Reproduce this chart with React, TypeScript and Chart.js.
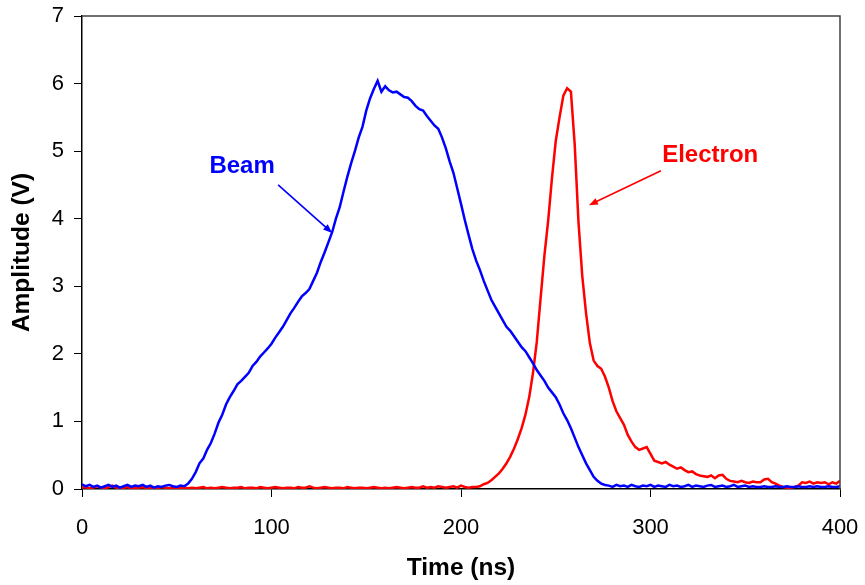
import React, { useEffect, useRef } from "react";
import { Chart, registerables } from "chart.js";

Chart.register(...registerables);

// Sample times (ns), one every 2 ns from 0 to 400
const timeStart = 0;
const timeStep = 2;

// Beam amplitude (V)
const beamAmp: number[] = [
  0.07, 0.04, 0.06, 0.03, 0.05, 0.02, 0.04, 0.06, 0.03, 0.05, 0.02, 0.04, 0.06, 0.03,
  0.05, 0.04, 0.06, 0.03, 0.05, 0.02, 0.04, 0.03, 0.05, 0.06, 0.04, 0.03, 0.05, 0.04,
  0.08, 0.15, 0.25, 0.38, 0.45, 0.58, 0.68, 0.82, 0.98, 1.1, 1.25, 1.36, 1.45, 1.55,
  1.6, 1.66, 1.72, 1.82, 1.88, 1.96, 2.02, 2.08, 2.15, 2.24, 2.32, 2.4, 2.5, 2.6,
  2.68, 2.77, 2.85, 2.9, 2.96, 3.08, 3.2, 3.36, 3.5, 3.65, 3.8, 4.0, 4.17, 4.4,
  4.62, 4.82, 5.0, 5.2, 5.36, 5.6, 5.78, 5.92, 6.04, 5.88, 5.96, 5.9, 5.87, 5.88,
  5.84, 5.8, 5.79, 5.74, 5.67, 5.62, 5.6, 5.52, 5.45, 5.38, 5.33, 5.2, 5.04, 4.85,
  4.68, 4.45, 4.22, 3.98, 3.76, 3.55, 3.38, 3.24, 3.08, 2.94, 2.8, 2.7, 2.6, 2.5,
  2.4, 2.34, 2.26, 2.18, 2.1, 2.04, 1.95, 1.86, 1.76, 1.68, 1.6, 1.5, 1.43, 1.36,
  1.25, 1.12, 1.02, 0.9, 0.76, 0.62, 0.5, 0.38, 0.28, 0.18, 0.12, 0.08, 0.06,
  0.05, 0.03, 0.06, 0.04, 0.05, 0.03, 0.06, 0.04, 0.03, 0.05, 0.04, 0.06, 0.03, 0.05,
  0.04, 0.03, 0.06, 0.04, 0.05, 0.03, 0.04, 0.06, 0.03, 0.05, 0.04, 0.03, 0.05, 0.06,
  0.03, 0.04, 0.05, 0.03, 0.04, 0.06, 0.03, 0.04, 0.05, 0.03, 0.04, 0.03, 0.03, 0.04,
  0.03, 0.03, 0.04, 0.03, 0.03, 0.04, 0.03, 0.03, 0.04, 0.03, 0.03, 0.04, 0.03, 0.04,
  0.03, 0.03, 0.04, 0.03, 0.03, 0.04, 0.05, 0.03,
];

// Electron amplitude (V)
const electronAmp: number[] = [
  0.02, 0.03, 0.01, 0.02, 0.04, 0.02, 0.01, 0.03, 0.05, 0.02, 0.01, 0.02, 0.03, 0.01,
  0.02, 0.02, 0.03, 0.01, 0.02, 0.02, 0.01, 0.03, 0.02, 0.01, 0.02, 0.02, 0.01, 0.02,
  0.01, 0.02, 0.01, 0.02, 0.03, 0.01, 0.02, 0.01, 0.02, 0.03, 0.02, 0.01, 0.02, 0.02,
  0.03, 0.01, 0.02, 0.02, 0.01, 0.03, 0.02, 0.01, 0.02, 0.03, 0.02, 0.01, 0.02, 0.02,
  0.01, 0.03, 0.02, 0.02, 0.04, 0.02, 0.01, 0.02, 0.03, 0.02, 0.01, 0.02, 0.02, 0.01,
  0.03, 0.02, 0.01, 0.02, 0.02, 0.01, 0.02, 0.03, 0.02, 0.01, 0.02, 0.01, 0.02, 0.03,
  0.02, 0.01, 0.02, 0.03, 0.02, 0.02, 0.04, 0.02, 0.03, 0.02, 0.04, 0.03, 0.02, 0.03,
  0.04, 0.02, 0.05, 0.03, 0.02, 0.03,
  0.03, 0.04, 0.07, 0.09, 0.13, 0.18, 0.23, 0.3, 0.38, 0.48, 0.6, 0.74, 0.9, 1.1,
  1.36, 1.72, 2.18, 2.82, 3.45, 3.97, 4.6, 5.15, 5.5, 5.82, 5.93, 5.88, 5.1, 3.95,
  3.15, 2.6, 2.16, 1.9, 1.82, 1.78, 1.66, 1.5, 1.3, 1.15, 1.05, 0.95, 0.8, 0.7,
  0.62, 0.58, 0.6, 0.62, 0.52, 0.42, 0.4, 0.38, 0.4, 0.36, 0.33, 0.3, 0.32, 0.28,
  0.25, 0.26, 0.22, 0.2, 0.19, 0.18, 0.2, 0.16, 0.2, 0.21, 0.15, 0.12, 0.11, 0.1,
  0.12, 0.1, 0.09, 0.11, 0.1, 0.1, 0.14, 0.15, 0.1, 0.08, 0.05, 0.03, 0.02, 0.02,
  0.03, 0.05, 0.1, 0.09, 0.11, 0.08, 0.1, 0.09, 0.1, 0.07, 0.1, 0.08, 0.12,
];

const xTicks = [0, 100, 200, 300, 400];
const yTicks = [0, 1, 2, 3, 4, 5, 6, 7];

// Annotations in data units
const beamLabel = { text: "Beam", x: 84.5, y: 4.78, color: "#0000FF" };
const beamArrow = { x1: 103.5, y1: 4.5, x2: 132, y2: 3.79 };
const electronLabel = { text: "Electron", x: 331.5, y: 4.93, color: "#FF0000" };
const electronArrow = { x1: 305.5, y1: 4.71, x2: 267.5, y2: 4.2 };

const FONT = "'Liberation Sans', Arial, sans-serif";

function toXY(values: number[]) {
  return values.map((v, i) => ({ x: timeStart + i * timeStep, y: v }));
}

const annotationPlugin = {
  id: "annots",
  afterDraw(chart: any) {
    const { ctx, chartArea, scales } = chart;
    const xs = scales.x;
    const ys = scales.y;
    ctx.save();
    // top & right frame
    ctx.strokeStyle = "#404040";
    ctx.lineWidth = 1.5;
    ctx.beginPath();
    ctx.moveTo(chartArea.left, chartArea.top);
    ctx.lineTo(chartArea.right, chartArea.top);
    ctx.lineTo(chartArea.right, chartArea.bottom);
    ctx.stroke();

    const drawArrow = (a: any, color: string) => {
      const x1 = xs.getPixelForValue(a.x1);
      const y1 = ys.getPixelForValue(a.y1);
      const x2 = xs.getPixelForValue(a.x2);
      const y2 = ys.getPixelForValue(a.y2);
      const ang = Math.atan2(y2 - y1, x2 - x1);
      const hl = 9;
      const hw = 3.5;
      ctx.strokeStyle = color;
      ctx.fillStyle = color;
      ctx.lineWidth = 1.6;
      ctx.beginPath();
      ctx.moveTo(x1, y1);
      ctx.lineTo(x2 - Math.cos(ang) * hl * 0.8, y2 - Math.sin(ang) * hl * 0.8);
      ctx.stroke();
      ctx.beginPath();
      ctx.moveTo(x2, y2);
      ctx.lineTo(
        x2 - Math.cos(ang) * hl - Math.sin(ang) * hw,
        y2 - Math.sin(ang) * hl + Math.cos(ang) * hw
      );
      ctx.lineTo(
        x2 - Math.cos(ang) * hl + Math.sin(ang) * hw,
        y2 - Math.sin(ang) * hl - Math.cos(ang) * hw
      );
      ctx.closePath();
      ctx.fill();
    };
    const drawLabel = (l: any) => {
      ctx.fillStyle = l.color;
      ctx.font = `bold 24px ${FONT}`;
      ctx.textAlign = "center";
      ctx.textBaseline = "middle";
      ctx.fillText(l.text, xs.getPixelForValue(l.x), ys.getPixelForValue(l.y));
    };
    drawArrow(beamArrow, beamLabel.color);
    drawArrow(electronArrow, electronLabel.color);
    drawLabel(beamLabel);
    drawLabel(electronLabel);
    ctx.restore();
  },
};

export default function App() {
  const ref = useRef<HTMLCanvasElement | null>(null);
  useEffect(() => {
    if (!ref.current) return;
    const chart = new Chart(ref.current, {
      type: "line",
      data: {
        datasets: [
          {
            label: "Beam",
            data: toXY(beamAmp),
            borderColor: "#0000FF",
            borderWidth: 2.5,
            pointRadius: 0,
            tension: 0,
            fill: false,
          },
          {
            label: "Electron",
            data: toXY(electronAmp),
            borderColor: "#FF0000",
            borderWidth: 2.5,
            pointRadius: 0,
            tension: 0,
            fill: false,
          },
        ],
      },
      options: {
        animation: false,
        responsive: false,
        layout: { padding: { left: 0, top: 16, right: 25, bottom: 0 } },
        plugins: {
          legend: { display: false },
          tooltip: { enabled: false },
        },
        scales: {
          x: {
            type: "linear",
            min: 0,
            max: 400,
            afterBuildTicks: (s: any) => {
              s.ticks = xTicks.map((v) => ({ value: v }));
            },
            afterFit: (s: any) => {
              s.height = 96;
              s.paddingLeft = 0;
              s.paddingRight = 0;
              s.paddingTop = 0;
              s.paddingBottom = 0;
            },
            ticks: {
              color: "#000",
              font: { family: FONT, size: 22 },
              padding: 18,
              maxRotation: 0,
            },
            grid: {
              display: true,
              drawOnChartArea: false,
              drawTicks: true,
              tickLength: 8,
              color: "#000",
            },
            border: { color: "#000", width: 1.5 },
            title: {
              display: true,
              text: "Time (ns)",
              color: "#000",
              font: { family: FONT, size: 24.5, weight: "bold" },
              padding: { top: 0, bottom: 2 },
            },
          },
          y: {
            type: "linear",
            min: 0,
            max: 7,
            afterBuildTicks: (s: any) => {
              s.ticks = yTicks.map((v) => ({ value: v }));
            },
            afterFit: (s: any) => {
              s.width = 82;
              s.paddingLeft = 0;
              s.paddingRight = 0;
              s.paddingTop = 0;
              s.paddingBottom = 0;
            },
            ticks: {
              color: "#000",
              font: { family: FONT, size: 22 },
              padding: 10,
            },
            grid: {
              display: true,
              drawOnChartArea: false,
              drawTicks: true,
              tickLength: 8,
              color: "#000",
            },
            border: { color: "#000", width: 1.5 },
            title: {
              display: true,
              text: "Amplitude (V)",
              color: "#000",
              font: { family: FONT, size: 24.5, weight: "bold" },
              padding: { top: 8, bottom: 0 },
            },
          },
        },
      },
      plugins: [annotationPlugin],
    });
    return () => chart.destroy();
  }, []);
  return (
    <div style={{ position: "fixed", left: 0, top: 0, width: 865, height: 585, background: "#fff" }}>
      <canvas ref={ref} width={865} height={585} style={{ display: "block" }} />
    </div>
  );
}
